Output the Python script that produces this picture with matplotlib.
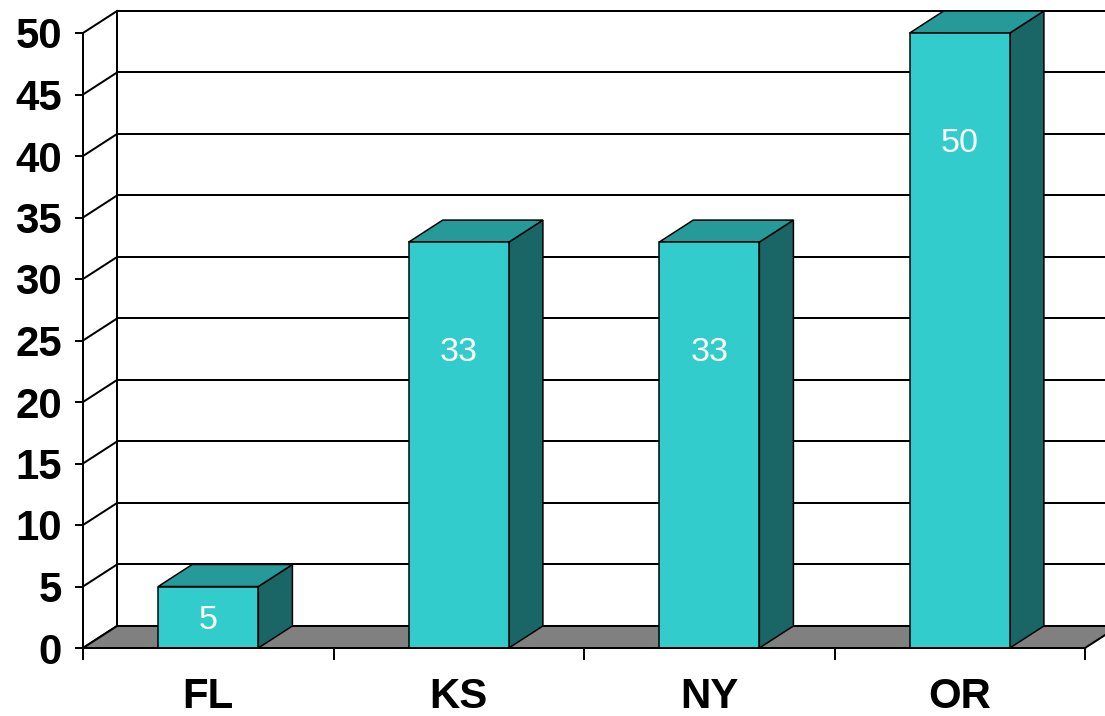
import matplotlib.pyplot as plt
from matplotlib.patches import Polygon

states = ["FL", "KS", "NY", "OR"]
values = [5, 33, 33, 50]
y_ticks = list(range(0, 51, 5))

front_color = "#33CCCC"
top_color = "#269999"
side_color = "#1A6666"
floor_color = "#808080"

# depth offset of the back wall, in data units (x: categories, y: values)
dx, dy = 0.136, 1.79
bar_w = 0.4

plt.rcParams["font.family"] = ["Liberation Sans", "DejaVu Sans"]

fig = plt.figure(figsize=(1105 / 72, 716 / 72), dpi=72)
ax = fig.add_axes([83 / 1105, 68 / 716, 1002 / 1105, 615 / 716])
ax.set_xlim(0, len(states))
ax.set_ylim(0, 50)
ax.set_facecolor("none")

lw = 2

# left side wall and back wall gridlines
ax.plot([dx, dx], [dy, 50 + dy], color="black", lw=lw, clip_on=False, zorder=1)
for v in y_ticks:
    ax.plot([0, dx], [v, v + dy], color="black", lw=lw, clip_on=False, zorder=1)
    ax.plot([dx, len(states) + dx + 0.2], [v + dy, v + dy], color="black",
            lw=lw, clip_on=False, zorder=1)

# floor
floor = Polygon([(0, 0), (len(states), 0), (len(states) + dx, dy), (dx, dy)],
                closed=True, facecolor=floor_color, edgecolor="black", lw=lw,
                clip_on=False, zorder=2)
ax.add_patch(floor)

# 3D-looking columns
for i, v in enumerate(values):
    x0 = i + 0.5 - bar_w / 2
    x1 = i + 0.5 + bar_w / 2
    front = Polygon([(x0, 0), (x1, 0), (x1, v), (x0, v)], closed=True,
                    facecolor=front_color, edgecolor="black", lw=1.5,
                    clip_on=False, zorder=4)
    top = Polygon([(x0, v), (x1, v), (x1 + dx, v + dy), (x0 + dx, v + dy)],
                  closed=True, facecolor=top_color, edgecolor="black", lw=1.5,
                  clip_on=False, zorder=3)
    side = Polygon([(x1, 0), (x1 + dx, dy), (x1 + dx, v + dy), (x1, v)],
                   closed=True, facecolor=side_color, edgecolor="black", lw=1.5,
                   clip_on=False, zorder=3)
    for p in (side, top, front):
        ax.add_patch(p)
    ly = max(v / 2, v - 8.7)
    ax.text(i + 0.5, ly, str(v), color="white", fontsize=34,
            ha="center", va="center_baseline", zorder=5)

# axes
for s in ("top", "right"):
    ax.spines[s].set_visible(False)
ax.spines["left"].set_linewidth(lw)
ax.spines["bottom"].set_linewidth(lw)
ax.spines["left"].set_zorder(6)
ax.spines["bottom"].set_zorder(6)
ax.spines["left"].set_bounds(0, 50)

ax.set_yticks(y_ticks)
ax.set_yticklabels([str(t) for t in y_ticks], fontsize=42, fontweight="bold")
ax.tick_params(axis="y", length=8, width=lw, pad=13, direction="out")

ax.set_xticks(range(len(states) + 1))
ax.set_xticklabels([])
ax.tick_params(axis="x", which="major", length=12, width=lw, direction="out")
ax.set_xticks([i + 0.5 for i in range(len(states))], minor=True)
ax.set_xticklabels(states, minor=True, fontsize=42, fontweight="bold")
ax.tick_params(axis="x", which="minor", length=0, pad=29)

fig.savefig("out.png", dpi=72, facecolor="white")
